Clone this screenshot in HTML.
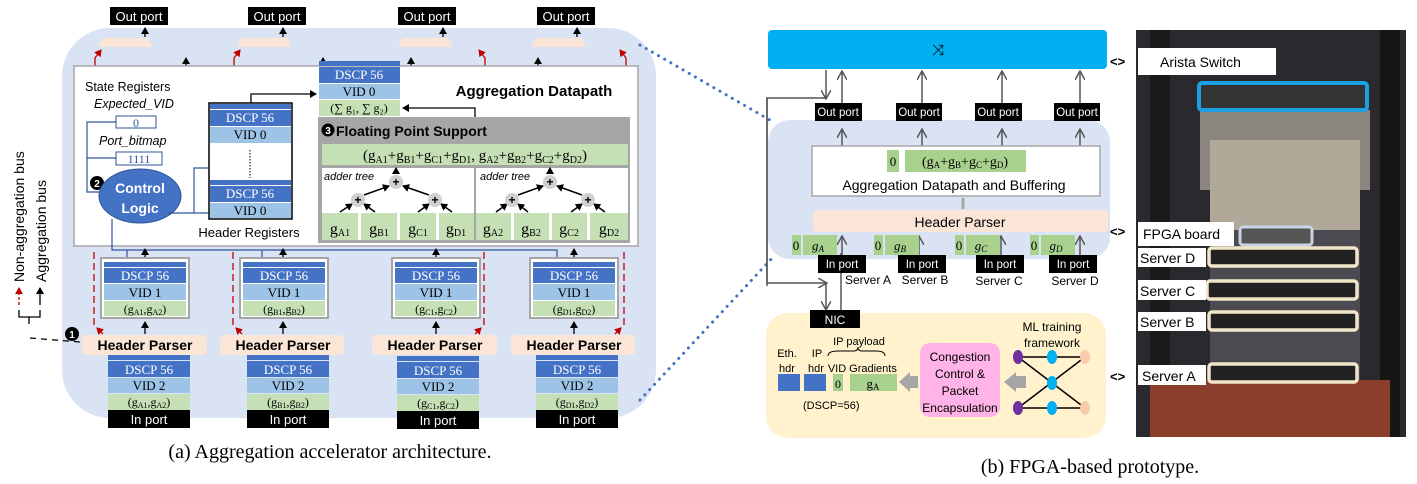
<!DOCTYPE html>
<html><head><meta charset="utf-8"><style>
html,body{margin:0;padding:0;background:#fff;}
svg{display:block;}
text{font-family:"Liberation Sans","DejaVu Sans",sans-serif;}
text.s,.s text{font-family:"Liberation Serif",serif;}
</style></head><body>
<svg width="1417" height="484" viewBox="0 0 1417 484" xmlns="http://www.w3.org/2000/svg">
<defs>
<marker id="ab" markerWidth="8" markerHeight="8" refX="6" refY="4" orient="auto" markerUnits="userSpaceOnUse"><path d="M0,0 L7,4 L0,8 Z" fill="#000"/></marker>
<marker id="ar" markerWidth="8" markerHeight="8" refX="6" refY="4" orient="auto" markerUnits="userSpaceOnUse"><path d="M0,0 L7,4 L0,8 Z" fill="#c00000"/></marker>
<marker id="ag" markerWidth="10" markerHeight="10" refX="8" refY="5" orient="auto" markerUnits="userSpaceOnUse"><path d="M0,0 L9,5 L0,10" fill="none" stroke="#555" stroke-width="1.5"/></marker>
</defs>

<!-- ===== LEFT (a) ===== -->
<rect x="62" y="28" width="594" height="390" rx="48" fill="#dae3f3"/>
<g fill="#000"><rect x="110" y="7" width="58" height="18"/><rect x="248" y="7" width="58" height="18"/><rect x="398" y="7" width="58" height="18"/><rect x="537" y="7" width="58" height="18"/></g>
<g fill="#fff" font-size="13" text-anchor="middle"><text x="139" y="21">Out port</text><text x="277" y="21">Out port</text><text x="427" y="21">Out port</text><text x="566" y="21">Out port</text></g>
<g fill="#fbe5d6"><path d="M103,38 L148,38 L153,47 L98,47Z"/><path d="M242,38 L287,38 L292,47 L237,47Z"/><path d="M403,38 L448,38 L453,47 L398,47Z"/><path d="M536,38 L581,38 L586,47 L531,47Z"/></g>
<g stroke="#000" stroke-width="1.3" fill="none">
<line x1="145" y1="37" x2="145" y2="28" marker-end="url(#ab)"/><line x1="283" y1="37" x2="283" y2="28" marker-end="url(#ab)"/><line x1="443" y1="37" x2="443" y2="28" marker-end="url(#ab)"/><line x1="577" y1="37" x2="577" y2="28" marker-end="url(#ab)"/>
<path d="M186,64 L186,75 L538,75 L538,64"/>
<line x1="186" y1="64" x2="186" y2="58" marker-end="url(#ab)"/><line x1="323" y1="64" x2="323" y2="58" marker-end="url(#ab)"/><line x1="411" y1="75" x2="411" y2="58" marker-end="url(#ab)"/><line x1="538" y1="64" x2="538" y2="58" marker-end="url(#ab)"/>
</g>
<g stroke="#c00000" stroke-width="1.3" fill="none">
<line x1="95" y1="66" x2="95" y2="58"/><line x1="95" y1="58" x2="101" y2="50" marker-end="url(#ar)"/>
<line x1="234" y1="66" x2="234" y2="58"/><line x1="234" y1="58" x2="240" y2="50" marker-end="url(#ar)"/>
<line x1="485" y1="66" x2="485" y2="58"/><line x1="485" y1="58" x2="479" y2="50" marker-end="url(#ar)"/>
<line x1="626" y1="66" x2="626" y2="58"/><line x1="626" y1="58" x2="620" y2="50" marker-end="url(#ar)"/>
</g>
<rect x="74" y="66" width="564" height="180" fill="#fff" stroke="#a6a6a6" stroke-width="1.5"/>
<text x="534" y="96" font-size="15" font-weight="bold" text-anchor="middle">Aggregation Datapath</text>
<text x="85" y="91" font-size="12.5">State Registers</text>
<text x="94" y="108" font-size="12.5" font-style="italic">Expected_VID</text>
<rect x="116" y="116" width="40" height="12" fill="#fff" stroke="#2f5597"/><text x="136" y="127" font-size="12" class="s" text-anchor="middle" fill="#2f5597">0</text>
<text x="99" y="145" font-size="12.5" font-style="italic">Port_bitmap</text>
<rect x="116" y="152" width="46" height="13" fill="#fff" stroke="#2f5597"/><text x="139" y="163" font-size="12" class="s" text-anchor="middle" fill="#2f5597">1111</text>
<path d="M116,122 L87,122 L87,192 L102,192 M116,158 L87,158" stroke="#2f5597" stroke-width="1.2" fill="none"/>
<circle cx="97" cy="183" r="7" fill="#000"/><text x="97" y="187" fill="#fff" font-size="10" font-weight="bold" text-anchor="middle">2</text>
<ellipse cx="140" cy="196" rx="41" ry="27" fill="#4472c4" stroke="#2f5597"/>
<text x="140" y="193" fill="#fff" font-size="14" font-weight="bold" text-anchor="middle">Control</text>
<text x="140" y="213" fill="#fff" font-size="14" font-weight="bold" text-anchor="middle">Logic</text>
<path d="M168,213 L194,213 L194,168 L210,168 M194,213 L210,213" stroke="#2f5597" stroke-width="1.2" fill="none"/>
<path d="M112,219 L112,250 L557,250 L557,258 M127,250 L127,258 M262,250 L262,258" stroke="#2f5597" stroke-width="1.2" fill="none"/>
<rect x="209" y="103" width="83" height="116" fill="#fff" stroke="#000" stroke-width="1.5"/>
<rect x="210" y="104" width="81" height="5" fill="#4472c4"/>
<rect x="210" y="110" width="81" height="16" fill="#4472c4"/><text x="250" y="122" class="s" fill="#fff" font-size="13" text-anchor="middle">DSCP 56</text>
<rect x="210" y="127" width="81" height="16" fill="#9dc3e6"/><text x="250" y="139" class="s" font-size="13" text-anchor="middle">VID 0</text>
<line x1="250" y1="150" x2="250" y2="178" stroke="#000" stroke-dasharray="1.5,1.5"/>
<rect x="210" y="180" width="81" height="5" fill="#4472c4"/>
<rect x="210" y="186" width="81" height="16" fill="#4472c4"/><text x="250" y="198" class="s" fill="#fff" font-size="13" text-anchor="middle">DSCP 56</text>
<rect x="210" y="203" width="81" height="15" fill="#9dc3e6"/><text x="250" y="215" class="s" font-size="13" text-anchor="middle">VID 0</text>
<text x="249" y="237" font-size="13" text-anchor="middle">Header Registers</text>
<path d="M251,103 L251,94 L316,94" stroke="#000" stroke-width="1.3" fill="none" marker-end="url(#ab)"/>
<rect x="319" y="61" width="81" height="5" fill="#4472c4"/>
<rect x="319" y="67" width="81" height="16" fill="#4472c4"/><text x="359" y="79" class="s" fill="#fff" font-size="13" text-anchor="middle">DSCP 56</text>
<rect x="319" y="84" width="81" height="15" fill="#9dc3e6"/><text x="359" y="96" class="s" font-size="13" text-anchor="middle">VID 0</text>
<rect x="319" y="100" width="81" height="16" fill="#c5e0b4"/><text x="359" y="112" class="s" font-size="12" text-anchor="middle">(∑ g₁, ∑ g₂)</text>
<path d="M475,117 L475,108 L403,108" stroke="#000" stroke-width="1.3" fill="none" marker-end="url(#ab)"/>
<rect x="318" y="117" width="312" height="126" fill="#a6a6a6"/>
<circle cx="328" cy="130" r="6.5" fill="#000"/><text x="328" y="134" fill="#fff" font-size="10" font-weight="bold" text-anchor="middle">3</text>
<text x="336" y="136" font-size="14" font-weight="bold">Floating Point Support</text>
<rect x="322" y="144" width="306" height="21" fill="#c5e0b4"/>
<text x="475" y="160" class="s" font-size="15" text-anchor="middle">(g<tspan font-size="10" dy="3">A1</tspan><tspan dy="-3">+g</tspan><tspan font-size="10" dy="3">B1</tspan><tspan dy="-3">+g</tspan><tspan font-size="10" dy="3">C1</tspan><tspan dy="-3">+g</tspan><tspan font-size="10" dy="3">D1</tspan><tspan dy="-3">, g</tspan><tspan font-size="10" dy="3">A2</tspan><tspan dy="-3">+g</tspan><tspan font-size="10" dy="3">B2</tspan><tspan dy="-3">+g</tspan><tspan font-size="10" dy="3">C2</tspan><tspan dy="-3">+g</tspan><tspan font-size="10" dy="3">D2</tspan><tspan dy="-3">)</tspan></text>
<rect x="322" y="168" width="152" height="72" fill="#fff"/><rect x="476" y="168" width="152" height="72" fill="#fff"/>
<text x="324" y="180" font-size="11" font-style="italic">adder tree</text><text x="480" y="180" font-size="11" font-style="italic">adder tree</text>
<g fill="#c5e0b4"><rect x="322" y="213" width="36" height="27"/><rect x="361" y="213" width="36" height="27"/><rect x="400" y="213" width="36" height="27"/><rect x="439" y="213" width="35" height="27"/><rect x="476" y="213" width="35" height="27"/><rect x="514" y="213" width="35" height="27"/><rect x="552" y="213" width="35" height="27"/><rect x="590" y="213" width="38" height="27"/></g>
<g class="s" font-size="16" text-anchor="middle">
<text x="340" y="234">g<tspan font-size="10" dy="2">A1</tspan></text><text x="379" y="234">g<tspan font-size="10" dy="2">B1</tspan></text><text x="418" y="234">g<tspan font-size="10" dy="2">C1</tspan></text><text x="456" y="234">g<tspan font-size="10" dy="2">D1</tspan></text>
<text x="493" y="234">g<tspan font-size="10" dy="2">A2</tspan></text><text x="531" y="234">g<tspan font-size="10" dy="2">B2</tspan></text><text x="569" y="234">g<tspan font-size="10" dy="2">C2</tspan></text><text x="609" y="234">g<tspan font-size="10" dy="2">D2</tspan></text></g>
<g stroke="#000" stroke-width="1.5" fill="none">
<line x1="340" y1="212" x2="352" y2="204" marker-end="url(#ab)"/><line x1="375" y1="212" x2="364" y2="204" marker-end="url(#ab)"/><line x1="418" y1="212" x2="429" y2="204" marker-end="url(#ab)"/><line x1="452" y1="212" x2="441" y2="204" marker-end="url(#ab)"/>
<line x1="364" y1="195" x2="389" y2="186" marker-end="url(#ab)"/><line x1="429" y1="195" x2="403" y2="186" marker-end="url(#ab)"/><line x1="396" y1="174" x2="396" y2="168" marker-end="url(#ab)"/>
<line x1="496" y1="212" x2="507" y2="204" marker-end="url(#ab)"/><line x1="528" y1="212" x2="518" y2="204" marker-end="url(#ab)"/><line x1="571" y1="212" x2="582" y2="204" marker-end="url(#ab)"/><line x1="605" y1="212" x2="594" y2="204" marker-end="url(#ab)"/>
<line x1="518" y1="195" x2="543" y2="186" marker-end="url(#ab)"/><line x1="582" y1="195" x2="557" y2="186" marker-end="url(#ab)"/><line x1="550" y1="174" x2="550" y2="168" marker-end="url(#ab)"/>
</g>
<g fill="#d0d0d0"><circle cx="358" cy="200" r="7"/><circle cx="435" cy="200" r="7"/><circle cx="396" cy="182" r="7"/><circle cx="512" cy="200" r="7"/><circle cx="588" cy="200" r="7"/><circle cx="550" cy="182" r="7"/></g>
<g font-size="12" font-weight="bold" text-anchor="middle"><text x="358" y="204">+</text><text x="435" y="204">+</text><text x="396" y="186">+</text><text x="512" y="204">+</text><text x="588" y="204">+</text><text x="550" y="186">+</text></g>

<g stroke="#000" stroke-width="1.3">
<line x1="145" y1="258" x2="145" y2="249" marker-end="url(#ab)"/><line x1="283" y1="258" x2="283" y2="249" marker-end="url(#ab)"/><line x1="436" y1="258" x2="436" y2="249" marker-end="url(#ab)"/><line x1="574" y1="258" x2="574" y2="249" marker-end="url(#ab)"/>
<line x1="145" y1="334" x2="145" y2="322" marker-end="url(#ab)"/><line x1="283" y1="334" x2="283" y2="322" marker-end="url(#ab)"/><line x1="436" y1="334" x2="436" y2="322" marker-end="url(#ab)"/><line x1="574" y1="334" x2="574" y2="322" marker-end="url(#ab)"/>
</g>
<g stroke="#c00000" stroke-width="1.3" stroke-dasharray="7,4" fill="none">
<line x1="94" y1="252" x2="94" y2="325"/><line x1="233" y1="252" x2="233" y2="325"/><line x1="484" y1="252" x2="484" y2="325"/><line x1="624" y1="252" x2="624" y2="325"/>
</g>
<g stroke="#c00000" stroke-width="1.3"><line x1="103" y1="334" x2="97" y2="328" marker-end="url(#ar)"/><line x1="242" y1="334" x2="236" y2="328" marker-end="url(#ar)"/><line x1="475" y1="334" x2="481" y2="328" marker-end="url(#ar)"/><line x1="615" y1="334" x2="621" y2="328" marker-end="url(#ar)"/></g>

<g>
<rect x="101" y="258" width="88" height="60" fill="#fff" stroke="#a6a6a6" stroke-width="2"/>
<rect x="104" y="262" width="82" height="5" fill="#4472c4"/><rect x="104" y="268" width="82" height="15" fill="#4472c4"/><rect x="104" y="284" width="82" height="16" fill="#9dc3e6"/><rect x="104" y="301" width="82" height="15" fill="#c5e0b4"/>
<rect x="240" y="258" width="88" height="60" fill="#fff" stroke="#a6a6a6" stroke-width="2"/>
<rect x="243" y="262" width="82" height="5" fill="#4472c4"/><rect x="243" y="268" width="82" height="15" fill="#4472c4"/><rect x="243" y="284" width="82" height="16" fill="#9dc3e6"/><rect x="243" y="301" width="82" height="15" fill="#c5e0b4"/>
<rect x="392" y="258" width="88" height="60" fill="#fff" stroke="#a6a6a6" stroke-width="2"/>
<rect x="395" y="262" width="82" height="5" fill="#4472c4"/><rect x="395" y="268" width="82" height="15" fill="#4472c4"/><rect x="395" y="284" width="82" height="16" fill="#9dc3e6"/><rect x="395" y="301" width="82" height="15" fill="#c5e0b4"/>
<rect x="530" y="258" width="88" height="60" fill="#fff" stroke="#a6a6a6" stroke-width="2"/>
<rect x="533" y="262" width="82" height="5" fill="#4472c4"/><rect x="533" y="268" width="82" height="15" fill="#4472c4"/><rect x="533" y="284" width="82" height="16" fill="#9dc3e6"/><rect x="533" y="301" width="82" height="15" fill="#c5e0b4"/>
</g>
<g class="s" font-size="13" text-anchor="middle">
<text x="145" y="280" fill="#fff">DSCP 56</text><text x="145" y="297">VID 1</text><text x="145" y="313" font-size="12">(g<tspan font-size="8" dy="2">A1</tspan><tspan dy="-2">,g</tspan><tspan font-size="8" dy="2">A2</tspan><tspan dy="-2">)</tspan></text>
<text x="284" y="280" fill="#fff">DSCP 56</text><text x="284" y="297">VID 1</text><text x="284" y="313" font-size="12">(g<tspan font-size="8" dy="2">B1</tspan><tspan dy="-2">,g</tspan><tspan font-size="8" dy="2">B2</tspan><tspan dy="-2">)</tspan></text>
<text x="436" y="280" fill="#fff">DSCP 56</text><text x="436" y="297">VID 1</text><text x="436" y="313" font-size="12">(g<tspan font-size="8" dy="2">C1</tspan><tspan dy="-2">,g</tspan><tspan font-size="8" dy="2">C2</tspan><tspan dy="-2">)</tspan></text>
<text x="574" y="280" fill="#fff">DSCP 56</text><text x="574" y="297">VID 1</text><text x="574" y="313" font-size="12">(g<tspan font-size="8" dy="2">D1</tspan><tspan dy="-2">,g</tspan><tspan font-size="8" dy="2">D2</tspan><tspan dy="-2">)</tspan></text>
</g>
<g fill="#fbe5d6"><rect x="82" y="335" width="125" height="20" rx="4"/><rect x="220" y="335" width="124" height="20" rx="4"/><rect x="372" y="335" width="125" height="20" rx="4"/><rect x="511" y="335" width="124" height="20" rx="4"/></g>
<g font-size="14" font-weight="bold" text-anchor="middle"><text x="145" y="350">Header Parser</text><text x="283" y="350">Header Parser</text><text x="435" y="350">Header Parser</text><text x="574" y="350">Header Parser</text></g>
<circle cx="72" cy="334" r="7" fill="#000"/><text x="72" y="338" fill="#fff" font-size="10" font-weight="bold" text-anchor="middle">1</text>
<path d="M30,338 L80,342" stroke="#000" stroke-width="1.3" stroke-dasharray="6,5"/>
<g>
<rect x="108" y="355" width="82" height="5" fill="#4472c4"/><rect x="108" y="361" width="82" height="16" fill="#4472c4"/><rect x="108" y="378" width="82" height="15" fill="#9dc3e6"/><rect x="108" y="394" width="82" height="16" fill="#c5e0b4"/><rect x="108" y="410" width="82" height="18" fill="#000"/>
<rect x="247" y="355" width="82" height="5" fill="#4472c4"/><rect x="247" y="361" width="82" height="16" fill="#4472c4"/><rect x="247" y="378" width="82" height="15" fill="#9dc3e6"/><rect x="247" y="394" width="82" height="16" fill="#c5e0b4"/><rect x="247" y="410" width="82" height="18" fill="#000"/>
<rect x="397" y="356" width="82" height="5" fill="#4472c4"/><rect x="397" y="362" width="82" height="16" fill="#4472c4"/><rect x="397" y="379" width="82" height="15" fill="#9dc3e6"/><rect x="397" y="395" width="82" height="16" fill="#c5e0b4"/><rect x="397" y="411" width="82" height="18" fill="#000"/>
<rect x="536" y="355" width="82" height="5" fill="#4472c4"/><rect x="536" y="361" width="82" height="16" fill="#4472c4"/><rect x="536" y="378" width="82" height="15" fill="#9dc3e6"/><rect x="536" y="394" width="82" height="16" fill="#c5e0b4"/><rect x="536" y="410" width="82" height="18" fill="#000"/>
</g>
<g class="s" font-size="13" text-anchor="middle">
<text x="149" y="374" fill="#fff">DSCP 56</text><text x="149" y="390">VID 2</text><text x="149" y="406" font-size="12">(g<tspan font-size="8" dy="2">A1</tspan><tspan dy="-2">,g</tspan><tspan font-size="8" dy="2">A2</tspan><tspan dy="-2">)</tspan></text>
<text x="288" y="374" fill="#fff">DSCP 56</text><text x="288" y="390">VID 2</text><text x="288" y="406" font-size="12">(g<tspan font-size="8" dy="2">B1</tspan><tspan dy="-2">,g</tspan><tspan font-size="8" dy="2">B2</tspan><tspan dy="-2">)</tspan></text>
<text x="438" y="375" fill="#fff">DSCP 56</text><text x="438" y="391">VID 2</text><text x="438" y="407" font-size="12">(g<tspan font-size="8" dy="2">C1</tspan><tspan dy="-2">,g</tspan><tspan font-size="8" dy="2">C2</tspan><tspan dy="-2">)</tspan></text>
<text x="577" y="374" fill="#fff">DSCP 56</text><text x="577" y="390">VID 2</text><text x="577" y="406" font-size="12">(g<tspan font-size="8" dy="2">D1</tspan><tspan dy="-2">,g</tspan><tspan font-size="8" dy="2">D2</tspan><tspan dy="-2">)</tspan></text>
</g>
<g fill="#fff" font-size="13" text-anchor="middle"><text x="149" y="424">In port</text><text x="288" y="424">In port</text><text x="438" y="425">In port</text><text x="577" y="424">In port</text></g>
<text transform="translate(24,282) rotate(-90)" font-size="14">Non-aggregation bus</text>
<text transform="translate(46,282) rotate(-90)" font-size="14">Aggregation bus</text>
<line x1="19" y1="305" x2="19" y2="288" stroke="#c00000" stroke-width="1.3" stroke-dasharray="3,2" marker-end="url(#ar)"/>
<line x1="40" y1="305" x2="40" y2="288" stroke="#000" stroke-width="1.3" marker-end="url(#ab)"/>
<path d="M19,310 L19,317 L40,317 L40,310 M29,317 L29,324" stroke="#000" fill="none" stroke-width="1.3"/>
<text x="330" y="458" class="s" font-size="20" text-anchor="middle">(a) Aggregation accelerator architecture.</text>

<line x1="640" y1="45" x2="775" y2="123" stroke="#4472c4" stroke-width="3" stroke-dasharray="0.1,7" stroke-linecap="round"/>
<line x1="640" y1="400" x2="775" y2="255" stroke="#4472c4" stroke-width="3" stroke-dasharray="0.1,7" stroke-linecap="round"/>

<!-- ===== RIGHT (b) ===== -->
<rect x="768" y="30" width="339" height="39" rx="4" fill="#00b0f0"/>
<text x="938" y="55" font-size="15" text-anchor="middle">⤨</text>
<rect x="768" y="120" width="342" height="139" rx="22" fill="#dae3f3"/>
<g stroke="#555" stroke-width="1.5" fill="none">
<line x1="842" y1="103" x2="842" y2="72" marker-end="url(#ag)"/><line x1="922" y1="103" x2="922" y2="72" marker-end="url(#ag)"/><line x1="1002" y1="103" x2="1002" y2="72" marker-end="url(#ag)"/><line x1="1080" y1="103" x2="1080" y2="72" marker-end="url(#ag)"/>
<line x1="842" y1="146" x2="842" y2="130" marker-end="url(#ag)"/><line x1="922" y1="146" x2="922" y2="130" marker-end="url(#ag)"/><line x1="1002" y1="146" x2="1002" y2="130" marker-end="url(#ag)"/><line x1="1080" y1="146" x2="1080" y2="130" marker-end="url(#ag)"/>
<line x1="826" y1="70" x2="826" y2="98" marker-end="url(#ag)"/>
<path d="M826,98 L767,98 L767,283 L826,283" marker-end="url(#ag)"/>
<line x1="767" y1="98" x2="767" y2="286"/>
<line x1="826" y1="283" x2="826" y2="309" marker-end="url(#ag)"/>
<line x1="841" y1="310" x2="841" y2="255" marker-end="url(#ag)"/>
<line x1="919" y1="255" x2="919" y2="237" marker-end="url(#ag)"/><line x1="1001" y1="255" x2="1001" y2="237" marker-end="url(#ag)"/><line x1="1080" y1="255" x2="1080" y2="237" marker-end="url(#ag)"/><line x1="842" y1="255" x2="842" y2="237" marker-end="url(#ag)"/>
</g>
<g fill="#000"><rect x="815" y="103" width="47" height="18"/><rect x="896" y="103" width="46" height="18"/><rect x="975" y="103" width="47" height="18"/><rect x="1054" y="103" width="46" height="18"/></g>
<g fill="#fff" font-size="11.5" text-anchor="middle"><text x="838" y="116">Out port</text><text x="919" y="116">Out port</text><text x="998" y="116">Out port</text><text x="1077" y="116">Out port</text></g>
<rect x="812" y="146" width="288" height="50" fill="#fff" stroke="#a6a6a6" stroke-width="1.5"/>
<rect x="887" y="150" width="12" height="22" fill="#a9d18e"/><text x="893" y="166" class="s" font-size="13" text-anchor="middle">0</text>
<rect x="905" y="150" width="121" height="22" fill="#a9d18e"/><text x="965" y="166" class="s" font-size="14" text-anchor="middle">(g<tspan font-size="9" dy="2">A</tspan><tspan dy="-2">+g</tspan><tspan font-size="9" dy="2">B</tspan><tspan dy="-2">+g</tspan><tspan font-size="9" dy="2">C</tspan><tspan dy="-2">+g</tspan><tspan font-size="9" dy="2">D</tspan><tspan dy="-2">)</tspan></text>
<text x="954" y="190" font-size="14" text-anchor="middle">Aggregation Datapath and Buffering</text>
<line x1="963" y1="209" x2="963" y2="198" stroke="#a6a6a6" stroke-width="3"/>
<rect x="813" y="210" width="295" height="22" rx="3" fill="#fbe5d6"/>
<text x="960" y="227" font-size="14" text-anchor="middle">Header Parser</text>
<g fill="#a9d18e"><rect x="792" y="235" width="9" height="20"/><rect x="803" y="235" width="34" height="20"/><rect x="874" y="235" width="9" height="20"/><rect x="885" y="235" width="34" height="20"/><rect x="955" y="235" width="9" height="20"/><rect x="966" y="235" width="34" height="20"/><rect x="1030" y="235" width="9" height="20"/><rect x="1041" y="235" width="34" height="20"/></g>
<g class="s" font-size="13" text-anchor="middle"><text x="796" y="250">0</text><text x="818" y="250" font-style="italic">g<tspan font-size="9" dy="2">A</tspan></text><text x="878" y="250">0</text><text x="900" y="250" font-style="italic">g<tspan font-size="9" dy="2">B</tspan></text><text x="959" y="250">0</text><text x="981" y="250" font-style="italic">g<tspan font-size="9" dy="2">C</tspan></text><text x="1034" y="250">0</text><text x="1056" y="250" font-style="italic">g<tspan font-size="9" dy="2">D</tspan></text></g>
<g fill="#000"><rect x="818" y="255" width="48" height="18"/><rect x="898" y="255" width="48" height="18"/><rect x="976" y="255" width="48" height="18"/><rect x="1049" y="255" width="48" height="18"/></g>
<g fill="#fff" font-size="11.5" text-anchor="middle"><text x="842" y="268">In port</text><text x="922" y="268">In port</text><text x="1000" y="268">In port</text><text x="1073" y="268">In port</text></g>
<g font-size="12" text-anchor="middle"><text x="868" y="284">Server A</text><text x="925" y="284">Server B</text><text x="999" y="285">Server C</text><text x="1075" y="285">Server D</text></g>
<rect x="766" y="313" width="340" height="125" rx="22" fill="#fff2cc"/>
<rect x="810" y="310" width="50" height="18" fill="#000"/><text x="835" y="324" fill="#fff" font-size="12" text-anchor="middle">NIC</text>
<text x="787" y="357" font-size="11" text-anchor="middle">Eth.</text><text x="787" y="372" font-size="11" text-anchor="middle">hdr</text>
<text x="817" y="357" font-size="11" text-anchor="middle">IP</text><text x="816" y="372" font-size="11" text-anchor="middle">hdr</text>
<text x="837" y="372" font-size="11" text-anchor="middle">VID</text><text x="873" y="372" font-size="11" text-anchor="middle">Gradients</text>
<text x="859" y="345" font-size="11" text-anchor="middle">IP payload</text>
<path d="M828,356 Q828,351 838,351 L854,351 Q858,351 858,347 Q858,351 862,351 L876,351 Q885,351 885,356" stroke="#000" fill="none"/>
<rect x="778" y="374" width="22" height="17" fill="#4472c4"/><rect x="804" y="374" width="22" height="17" fill="#4472c4"/>
<rect x="833" y="374" width="10" height="17" fill="#a9d18e"/><text x="838" y="388" class="s" font-size="12" text-anchor="middle">0</text>
<rect x="850" y="374" width="47" height="17" fill="#a9d18e"/><text x="873" y="388" class="s" font-size="13" text-anchor="middle">g<tspan font-size="9" dy="2">A</tspan></text>
<text x="803" y="409" font-size="11">(DSCP=56)</text>
<path d="M918,376 L910,376 L910,372 L899,382 L910,392 L910,388 L918,388Z" fill="#a6a6a6"/>
<path d="M1026,376 L1016,376 L1016,372 L1004,382 L1016,392 L1016,388 L1026,388Z" fill="#a6a6a6"/>
<rect x="920" y="343" width="80" height="74" rx="10" fill="#ffb3e6"/>
<g font-size="12" text-anchor="middle"><text x="960" y="361">Congestion</text><text x="960" y="378">Control &amp;</text><text x="960" y="395">Packet</text><text x="960" y="412">Encapsulation</text></g>
<text x="1052" y="331" font-size="12" text-anchor="middle">ML training</text><text x="1052" y="347" font-size="12" text-anchor="middle">framework</text>
<g stroke="#000" stroke-width="1.5"><line x1="1018" y1="357" x2="1085" y2="357"/><line x1="1018" y1="408" x2="1085" y2="408"/><line x1="1018" y1="357" x2="1085" y2="408"/><line x1="1018" y1="408" x2="1085" y2="357"/></g>
<g><ellipse cx="1018" cy="357" rx="5" ry="7" fill="#7030a0"/><ellipse cx="1018" cy="408" rx="5" ry="7" fill="#7030a0"/><ellipse cx="1052" cy="357" rx="5" ry="7" fill="#00b0f0"/><ellipse cx="1052" cy="383" rx="5" ry="7" fill="#00b0f0"/><ellipse cx="1052" cy="408" rx="5" ry="7" fill="#00b0f0"/><ellipse cx="1085" cy="357" rx="5" ry="7" fill="#f8cbad"/><ellipse cx="1085" cy="408" rx="5" ry="7" fill="#f8cbad"/></g>
<!-- photo -->
<rect x="1136" y="30" width="270" height="407" fill="#2a2a2e"/>
<rect x="1150" y="30" width="20" height="407" fill="#1a1a1a"/>
<rect x="1380" y="30" width="20" height="407" fill="#161616"/>
<rect x="1200" y="110" width="170" height="80" fill="#8b8780"/>
<rect x="1210" y="140" width="150" height="90" fill="#b0a898"/>
<rect x="1210" y="230" width="150" height="150" fill="#4a4a50"/>
<rect x="1150" y="380" width="240" height="57" fill="#8a3f2c"/>
<rect x="1199" y="83" width="168" height="27" rx="3" fill="#333" stroke="#1ba1e2" stroke-width="4"/>
<rect x="1240" y="227" width="72" height="18" rx="3" fill="#555" stroke="#c9d3e8" stroke-width="3"/>
<g fill="#222" stroke="#f2e6c8" stroke-width="3.5"><rect x="1209" y="248" width="148" height="18" rx="3"/><rect x="1207" y="281" width="150" height="18" rx="3"/><rect x="1209" y="312" width="148" height="18" rx="3"/><rect x="1209" y="364" width="148" height="18" rx="3"/></g>
<g fill="#fff"><rect x="1138" y="48" width="138" height="27"/><rect x="1138" y="222" width="96" height="24"/><rect x="1138" y="248" width="68" height="19"/><rect x="1138" y="280" width="68" height="20"/><rect x="1138" y="312" width="68" height="19"/><rect x="1138" y="365" width="68" height="20"/></g>
<g font-size="14"><text x="1160" y="67">Arista Switch</text><text x="1143" y="239">FPGA board</text><text x="1140" y="263">Server D</text><text x="1140" y="296">Server C</text><text x="1140" y="327">Server B</text><text x="1142" y="381">Server A</text></g>
<g font-size="13" font-weight="bold"><text x="1110" y="66">&lt;&gt;</text><text x="1110" y="236">&lt;&gt;</text><text x="1110" y="381">&lt;&gt;</text></g>
<text x="1090" y="473" class="s" font-size="20" text-anchor="middle">(b) FPGA-based prototype.</text>
</svg>
</body></html>
